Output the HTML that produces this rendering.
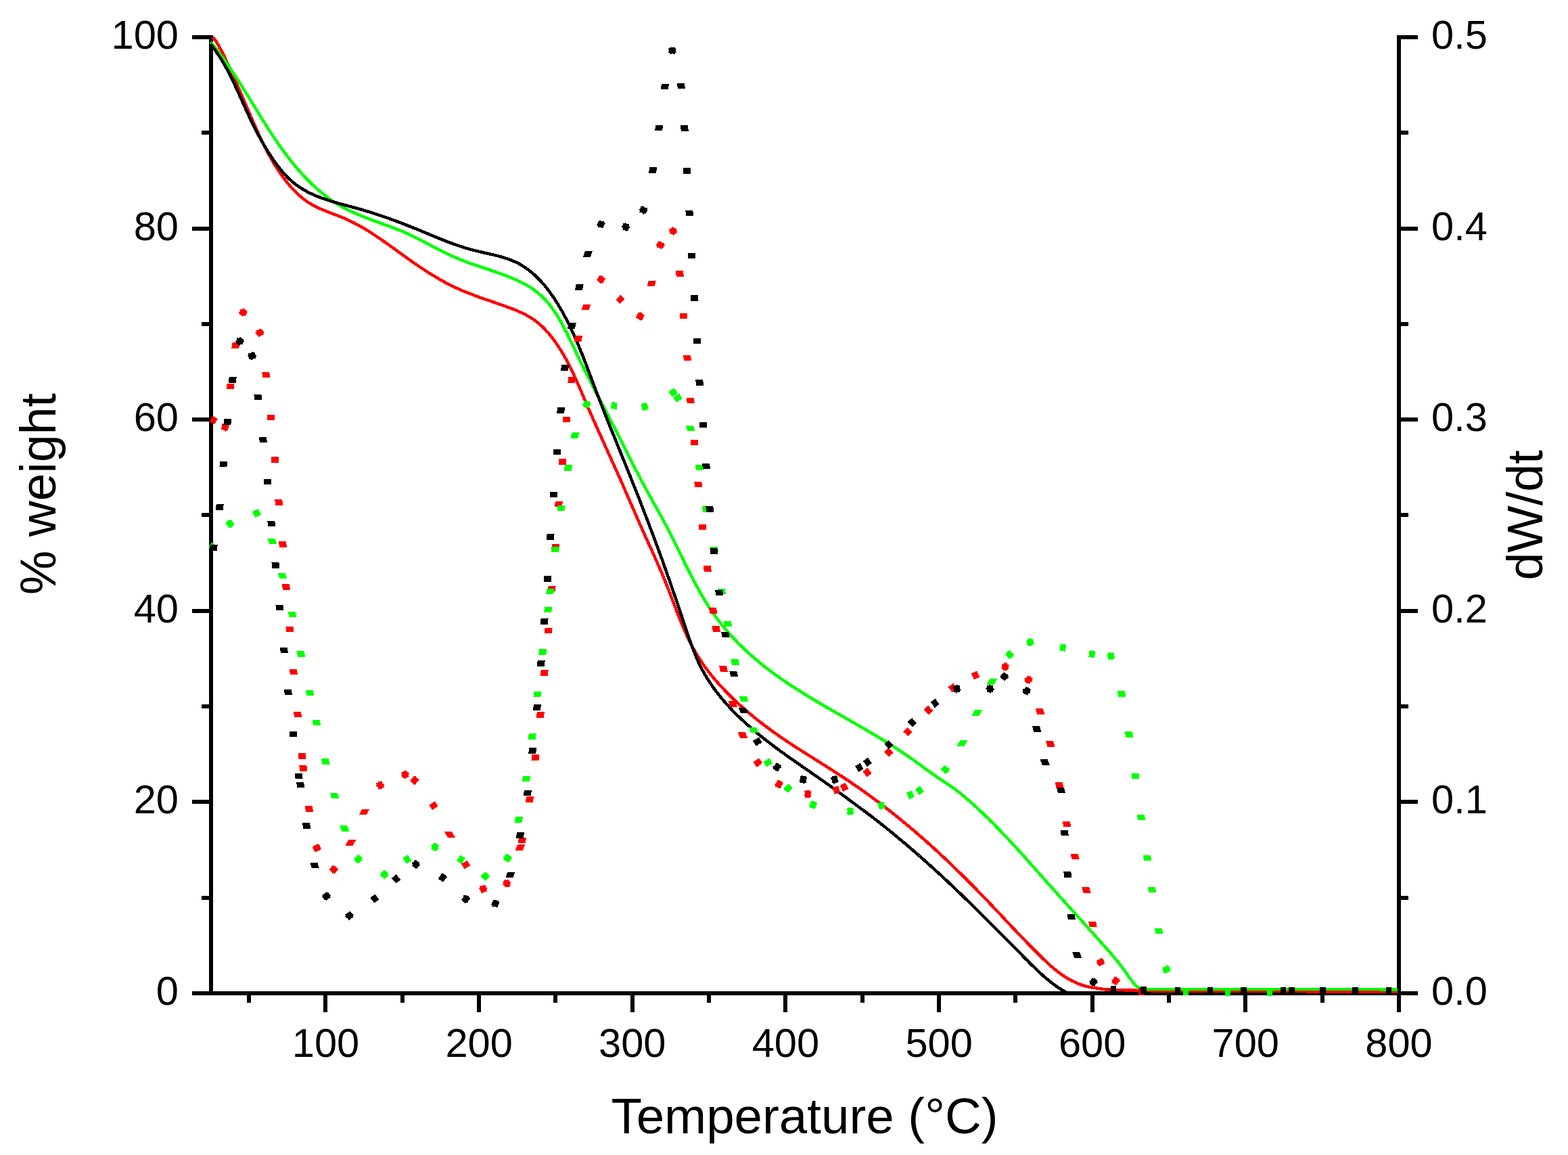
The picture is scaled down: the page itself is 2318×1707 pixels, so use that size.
<!DOCTYPE html>
<html><head><meta charset="utf-8"><title>TGA</title>
<style>html,body{margin:0;padding:0;background:#fff;}svg{display:block;}</style></head>
<body><svg width="2318" height="1707" viewBox="0 0 2318 1707">
<rect width="2318" height="1707" fill="#fff"/>
<g fill="#000" shape-rendering="crispEdges">
<rect x="309" y="52" width="6" height="1419"/>
<rect x="2065" y="52" width="6" height="1419"/>
<rect x="309" y="1465" width="1762" height="6"/>
<rect x="284" y="1465" width="25" height="6"/>
<rect x="2071" y="1465" width="25" height="6"/>
<rect x="284" y="1182" width="25" height="6"/>
<rect x="2071" y="1182" width="25" height="6"/>
<rect x="284" y="900" width="25" height="6"/>
<rect x="2071" y="900" width="25" height="6"/>
<rect x="284" y="617" width="25" height="6"/>
<rect x="2071" y="617" width="25" height="6"/>
<rect x="284" y="335" width="25" height="6"/>
<rect x="2071" y="335" width="25" height="6"/>
<rect x="284" y="52" width="25" height="6"/>
<rect x="2071" y="52" width="25" height="6"/>
<rect x="298" y="1324" width="11" height="6"/>
<rect x="2071" y="1324" width="11" height="6"/>
<rect x="298" y="1041" width="11" height="6"/>
<rect x="2071" y="1041" width="11" height="6"/>
<rect x="298" y="758" width="11" height="6"/>
<rect x="2071" y="758" width="11" height="6"/>
<rect x="298" y="476" width="11" height="6"/>
<rect x="2071" y="476" width="11" height="6"/>
<rect x="298" y="193" width="11" height="6"/>
<rect x="2071" y="193" width="11" height="6"/>
<rect x="478" y="1471" width="6" height="25"/>
<rect x="705" y="1471" width="6" height="25"/>
<rect x="932" y="1471" width="6" height="25"/>
<rect x="1158" y="1471" width="6" height="25"/>
<rect x="1385" y="1471" width="6" height="25"/>
<rect x="1612" y="1471" width="6" height="25"/>
<rect x="1838" y="1471" width="6" height="25"/>
<rect x="2065" y="1471" width="6" height="25"/>
<rect x="365" y="1471" width="6" height="11"/>
<rect x="592" y="1471" width="6" height="11"/>
<rect x="818" y="1471" width="6" height="11"/>
<rect x="1045" y="1471" width="6" height="11"/>
<rect x="1272" y="1471" width="6" height="11"/>
<rect x="1498" y="1471" width="6" height="11"/>
<rect x="1725" y="1471" width="6" height="11"/>
<rect x="1952" y="1471" width="6" height="11"/>
</g>
<g fill="none" stroke-width="4.5" stroke-linejoin="round" shape-rendering="crispEdges">
<path stroke="#ff0000" d="M314.9 54.9 L316.7 57.4 L318.4 59.8 L320.1 62.3 L321.7 64.9 L323.2 67.4 L324.7 70.0 L326.1 72.7 L327.5 75.3 L328.9 78.0 L330.2 80.6 L331.5 83.3 L332.8 86.0 L334.0 88.7 L335.3 91.4 L336.5 94.2 L337.8 96.9 L339.0 99.6 L340.3 102.3 L341.5 105.0 L342.7 107.8 L343.9 110.5 L345.2 113.2 L346.4 115.9 L347.6 118.7 L348.8 121.4 L350.0 124.2 L351.2 126.9 L352.4 129.6 L353.6 132.4 L354.8 135.1 L356.0 137.9 L357.2 140.6 L358.4 143.4 L359.5 146.1 L360.7 148.9 L361.9 151.6 L363.1 154.4 L364.3 157.1 L365.5 159.9 L366.7 162.6 L367.9 165.4 L369.0 168.1 L370.2 170.9 L371.4 173.6 L372.6 176.4 L373.8 179.2 L375.0 181.9 L376.3 184.7 L377.5 187.4 L378.7 190.1 L379.9 192.9 L381.2 195.6 L382.4 198.4 L383.7 201.1 L385.0 203.8 L386.3 206.5 L387.6 209.2 L388.9 211.9 L390.2 214.6 L391.6 217.3 L392.9 219.9 L394.3 222.6 L395.7 225.3 L397.1 227.9 L398.6 230.5 L400.0 233.1 L401.5 235.7 L403.0 238.3 L404.6 240.9 L406.1 243.5 L407.7 246.0 L409.3 248.5 L410.9 251.0 L412.6 253.5 L414.3 256.0 L416.0 258.5 L417.8 260.9 L419.6 263.3 L421.4 265.7 L423.2 268.1 L425.1 270.5 L427.0 272.8 L429.0 275.1 L431.0 277.3 L433.0 279.5 L435.1 281.7 L437.2 283.8 L439.3 285.9 L441.5 288.0 L443.7 289.9 L446.0 291.9 L448.3 293.7 L450.6 295.5 L453.0 297.3 L455.5 298.9 L458.0 300.5 L460.5 302.0 L463.1 303.5 L465.7 304.9 L468.4 306.2 L471.1 307.5 L473.8 308.7 L476.6 309.9 L479.3 311.0 L482.1 312.1 L484.9 313.2 L487.8 314.3 L490.6 315.4 L493.4 316.5 L496.2 317.6 L499.0 318.6 L501.8 319.7 L504.6 320.9 L507.4 322.0 L510.2 323.2 L512.9 324.4 L515.7 325.7 L518.3 327.0 L521.0 328.3 L523.7 329.6 L526.3 331.0 L529.0 332.4 L531.6 333.9 L534.2 335.3 L536.7 336.8 L539.3 338.3 L541.9 339.9 L544.4 341.4 L546.9 343.0 L549.4 344.6 L551.9 346.2 L554.4 347.9 L556.9 349.5 L559.4 351.2 L561.9 352.9 L564.3 354.6 L566.8 356.3 L569.2 358.0 L571.7 359.7 L574.1 361.5 L576.6 363.2 L579.0 365.0 L581.4 366.7 L583.9 368.5 L586.3 370.2 L588.7 372.0 L591.2 373.8 L593.6 375.5 L596.0 377.3 L598.5 379.1 L600.9 380.8 L603.4 382.6 L605.8 384.3 L608.3 386.0 L610.8 387.8 L613.3 389.5 L615.7 391.2 L618.2 392.9 L620.7 394.6 L623.2 396.2 L625.7 397.9 L628.2 399.5 L630.8 401.2 L633.3 402.8 L635.9 404.4 L638.4 406.0 L641.0 407.5 L643.5 409.1 L646.1 410.6 L648.7 412.1 L651.3 413.6 L653.9 415.1 L656.5 416.5 L659.2 417.9 L661.8 419.3 L664.5 420.7 L667.1 422.0 L669.8 423.3 L672.5 424.6 L675.2 425.9 L677.9 427.1 L680.7 428.3 L683.4 429.5 L686.2 430.6 L688.9 431.7 L691.7 432.9 L694.5 433.9 L697.3 435.0 L700.1 436.1 L702.9 437.1 L705.7 438.2 L708.5 439.2 L711.3 440.2 L714.2 441.2 L717.0 442.2 L719.8 443.2 L722.7 444.1 L725.5 445.1 L728.3 446.1 L731.2 447.1 L734.0 448.1 L736.9 449.1 L739.7 450.0 L742.6 451.0 L745.4 452.0 L748.2 453.1 L751.1 454.1 L753.9 455.1 L756.7 456.2 L759.5 457.3 L762.3 458.4 L765.1 459.6 L767.8 460.7 L770.5 462.0 L773.2 463.3 L775.9 464.6 L778.5 466.0 L781.1 467.4 L783.6 468.9 L786.2 470.5 L788.6 472.1 L791.0 473.8 L793.4 475.6 L795.7 477.5 L798.0 479.4 L800.2 481.4 L802.4 483.5 L804.5 485.6 L806.6 487.8 L808.6 490.0 L810.6 492.3 L812.6 494.6 L814.5 496.9 L816.4 499.3 L818.2 501.7 L820.0 504.1 L821.7 506.5 L823.4 509.0 L825.1 511.5 L826.8 514.0 L828.4 516.5 L829.9 519.1 L831.5 521.6 L833.0 524.2 L834.5 526.8 L835.9 529.4 L837.4 532.0 L838.8 534.6 L840.2 537.3 L841.5 540.0 L842.9 542.6 L844.2 545.3 L845.5 548.0 L846.8 550.7 L848.1 553.4 L849.3 556.2 L850.6 558.9 L851.8 561.6 L853.0 564.4 L854.2 567.1 L855.5 569.9 L856.6 572.7 L857.8 575.4 L859.0 578.2 L860.2 581.0 L861.4 583.7 L862.6 586.5 L863.7 589.3 L864.9 592.0 L866.1 594.8 L867.3 597.5 L868.5 600.3 L869.7 603.1 L870.9 605.8 L872.1 608.6 L873.3 611.3 L874.5 614.0 L875.7 616.8 L876.9 619.5 L878.1 622.3 L879.3 625.0 L880.6 627.7 L881.8 630.5 L883.0 633.2 L884.2 635.9 L885.5 638.7 L886.7 641.4 L887.9 644.1 L889.2 646.8 L890.4 649.5 L891.6 652.3 L892.9 655.0 L894.1 657.7 L895.3 660.4 L896.6 663.2 L897.8 665.9 L899.0 668.6 L900.3 671.3 L901.5 674.0 L902.7 676.8 L904.0 679.5 L905.2 682.2 L906.4 684.9 L907.7 687.7 L908.9 690.4 L910.1 693.1 L911.4 695.9 L912.6 698.6 L913.8 701.3 L915.0 704.1 L916.2 706.8 L917.5 709.5 L918.7 712.3 L919.9 715.0 L921.1 717.8 L922.3 720.5 L923.5 723.3 L924.7 726.0 L925.9 728.8 L927.1 731.5 L928.3 734.3 L929.5 737.0 L930.7 739.8 L931.9 742.5 L933.1 745.3 L934.3 748.0 L935.5 750.8 L936.7 753.5 L937.9 756.3 L939.1 759.0 L940.3 761.8 L941.5 764.5 L942.7 767.3 L943.9 770.0 L945.1 772.8 L946.3 775.5 L947.6 778.2 L948.8 781.0 L950.0 783.7 L951.2 786.4 L952.5 789.2 L953.7 791.9 L954.9 794.6 L956.2 797.3 L957.4 800.0 L958.6 802.7 L959.9 805.5 L961.1 808.2 L962.4 810.9 L963.6 813.6 L964.8 816.3 L966.1 819.0 L967.3 821.8 L968.5 824.5 L969.7 827.2 L970.9 829.9 L972.1 832.7 L973.3 835.4 L974.5 838.1 L975.7 840.9 L976.9 843.6 L978.1 846.4 L979.2 849.1 L980.4 851.9 L981.5 854.7 L982.7 857.5 L983.8 860.2 L984.9 863.0 L986.0 865.8 L987.1 868.6 L988.2 871.4 L989.3 874.2 L990.4 877.0 L991.5 879.9 L992.5 882.7 L993.6 885.5 L994.7 888.3 L995.7 891.1 L996.8 894.0 L997.9 896.8 L999.0 899.6 L1000.0 902.4 L1001.1 905.2 L1002.2 908.0 L1003.3 910.8 L1004.4 913.6 L1005.6 916.4 L1006.7 919.2 L1007.8 922.0 L1009.0 924.8 L1010.2 927.5 L1011.4 930.3 L1012.6 933.0 L1013.8 935.8 L1015.0 938.5 L1016.3 941.2 L1017.6 943.9 L1018.9 946.6 L1020.2 949.3 L1021.6 951.9 L1022.9 954.6 L1024.3 957.2 L1025.8 959.8 L1027.2 962.4 L1028.7 965.0 L1030.2 967.6 L1031.8 970.1 L1033.4 972.6 L1035.0 975.1 L1036.6 977.6 L1038.3 980.1 L1040.0 982.5 L1041.7 985.0 L1043.5 987.4 L1045.3 989.8 L1047.1 992.2 L1048.9 994.5 L1050.8 996.9 L1052.6 999.2 L1054.6 1001.5 L1056.5 1003.8 L1058.4 1006.1 L1060.4 1008.3 L1062.4 1010.6 L1064.4 1012.8 L1066.4 1015.0 L1068.5 1017.2 L1070.6 1019.4 L1072.6 1021.6 L1074.7 1023.7 L1076.8 1025.9 L1079.0 1028.0 L1081.1 1030.1 L1083.3 1032.2 L1085.4 1034.3 L1087.6 1036.3 L1089.8 1038.4 L1092.0 1040.4 L1094.2 1042.4 L1096.5 1044.4 L1098.7 1046.4 L1101.0 1048.4 L1103.2 1050.4 L1105.5 1052.3 L1107.8 1054.3 L1110.1 1056.2 L1112.4 1058.1 L1114.7 1060.0 L1117.1 1061.9 L1119.4 1063.8 L1121.8 1065.6 L1124.1 1067.5 L1126.5 1069.3 L1128.9 1071.1 L1131.3 1072.9 L1133.7 1074.7 L1136.1 1076.5 L1138.5 1078.3 L1140.9 1080.1 L1143.4 1081.8 L1145.8 1083.5 L1148.3 1085.3 L1150.7 1087.0 L1153.2 1088.7 L1155.7 1090.4 L1158.1 1092.1 L1160.6 1093.7 L1163.1 1095.4 L1165.6 1097.1 L1168.1 1098.7 L1170.6 1100.4 L1173.1 1102.0 L1175.6 1103.6 L1178.1 1105.3 L1180.7 1106.9 L1183.2 1108.5 L1185.7 1110.1 L1188.2 1111.7 L1190.8 1113.3 L1193.3 1114.9 L1195.8 1116.5 L1198.4 1118.1 L1200.9 1119.7 L1203.4 1121.3 L1206.0 1122.9 L1208.5 1124.5 L1211.0 1126.1 L1213.6 1127.7 L1216.1 1129.3 L1218.6 1130.9 L1221.2 1132.5 L1223.7 1134.1 L1226.2 1135.7 L1228.8 1137.3 L1231.3 1138.9 L1233.8 1140.5 L1236.3 1142.1 L1238.8 1143.8 L1241.3 1145.4 L1243.8 1147.0 L1246.3 1148.7 L1248.8 1150.3 L1251.3 1152.0 L1253.8 1153.6 L1256.3 1155.3 L1258.8 1157.0 L1261.2 1158.7 L1263.7 1160.4 L1266.2 1162.1 L1268.6 1163.8 L1271.1 1165.5 L1273.5 1167.2 L1276.0 1169.0 L1278.4 1170.7 L1280.8 1172.5 L1283.2 1174.2 L1285.7 1176.0 L1288.1 1177.7 L1290.5 1179.5 L1292.9 1181.3 L1295.3 1183.1 L1297.7 1184.9 L1300.1 1186.7 L1302.5 1188.5 L1304.8 1190.3 L1307.2 1192.1 L1309.6 1193.9 L1311.9 1195.8 L1314.3 1197.6 L1316.7 1199.5 L1319.0 1201.3 L1321.4 1203.2 L1323.7 1205.0 L1326.0 1206.9 L1328.4 1208.8 L1330.7 1210.7 L1333.0 1212.6 L1335.3 1214.5 L1337.6 1216.4 L1339.9 1218.3 L1342.2 1220.2 L1344.5 1222.1 L1346.8 1224.1 L1349.1 1226.0 L1351.4 1227.9 L1353.7 1229.9 L1355.9 1231.8 L1358.2 1233.8 L1360.5 1235.8 L1362.7 1237.7 L1365.0 1239.7 L1367.2 1241.7 L1369.5 1243.7 L1371.7 1245.7 L1373.9 1247.7 L1376.2 1249.7 L1378.4 1251.7 L1380.6 1253.7 L1382.8 1255.7 L1385.0 1257.8 L1387.2 1259.8 L1389.4 1261.8 L1391.6 1263.9 L1393.8 1265.9 L1396.0 1268.0 L1398.2 1270.0 L1400.4 1272.1 L1402.5 1274.2 L1404.7 1276.2 L1406.9 1278.3 L1409.0 1280.4 L1411.2 1282.5 L1413.3 1284.6 L1415.5 1286.7 L1417.6 1288.8 L1419.8 1290.9 L1421.9 1293.0 L1424.0 1295.1 L1426.2 1297.2 L1428.3 1299.3 L1430.4 1301.4 L1432.5 1303.5 L1434.6 1305.7 L1436.7 1307.8 L1438.9 1309.9 L1441.0 1312.1 L1443.1 1314.2 L1445.1 1316.3 L1447.2 1318.5 L1449.3 1320.6 L1451.4 1322.8 L1453.5 1324.9 L1455.6 1327.1 L1457.6 1329.3 L1459.7 1331.4 L1461.8 1333.6 L1463.8 1335.7 L1465.9 1337.9 L1468.0 1340.1 L1470.0 1342.3 L1472.1 1344.4 L1474.1 1346.6 L1476.2 1348.8 L1478.2 1351.0 L1480.3 1353.1 L1482.3 1355.3 L1484.4 1357.5 L1486.4 1359.7 L1488.5 1361.8 L1490.5 1364.0 L1492.6 1366.2 L1494.6 1368.4 L1496.7 1370.6 L1498.7 1372.7 L1500.8 1374.9 L1502.9 1377.1 L1504.9 1379.2 L1507.0 1381.4 L1509.1 1383.6 L1511.1 1385.7 L1513.2 1387.9 L1515.3 1390.1 L1517.4 1392.2 L1519.5 1394.4 L1521.6 1396.5 L1523.7 1398.7 L1525.8 1400.8 L1527.9 1402.9 L1530.0 1405.1 L1532.1 1407.2 L1534.3 1409.3 L1536.4 1411.5 L1538.6 1413.6 L1540.7 1415.7 L1542.9 1417.8 L1545.1 1419.8 L1547.3 1421.9 L1549.5 1423.9 L1551.7 1426.0 L1553.9 1428.0 L1556.2 1429.9 L1558.5 1431.8 L1560.8 1433.7 L1563.2 1435.6 L1565.5 1437.4 L1567.9 1439.2 L1570.3 1440.9 L1572.8 1442.6 L1575.3 1444.2 L1577.8 1445.7 L1580.3 1447.2 L1582.9 1448.7 L1585.5 1450.0 L1588.2 1451.3 L1590.9 1452.6 L1593.7 1453.7 L1596.5 1454.8 L1599.3 1455.8 L1602.2 1456.7 L1605.1 1457.5 L1608.1 1458.3 L1611.1 1458.9 L1614.2 1459.5 L1617.4 1459.9 L1633.4 1462.3 L1666.1 1463.4 L1710.0 1464.5 L1800.0 1464.9 L1900.0 1465.2 L2000.0 1465.4 L2066.0 1465.5"/>
<path stroke="#00ff00" d="M311.4 62.2 L313.3 64.5 L315.2 66.9 L317.1 69.2 L318.9 71.5 L320.8 73.9 L322.6 76.3 L324.4 78.6 L326.2 81.0 L328.0 83.4 L329.7 85.8 L331.5 88.3 L333.2 90.7 L334.9 93.1 L336.6 95.6 L338.3 98.1 L340.0 100.5 L341.7 103.0 L343.4 105.5 L345.0 108.0 L346.7 110.5 L348.3 113.0 L350.0 115.5 L351.6 118.0 L353.2 120.5 L354.8 123.1 L356.4 125.6 L358.0 128.1 L359.6 130.7 L361.2 133.2 L362.8 135.8 L364.3 138.3 L365.9 140.9 L367.5 143.4 L369.1 146.0 L370.6 148.5 L372.2 151.1 L373.8 153.7 L375.3 156.2 L376.9 158.8 L378.5 161.3 L380.0 163.9 L381.6 166.4 L383.2 169.0 L384.8 171.5 L386.4 174.1 L387.9 176.6 L389.5 179.2 L391.1 181.7 L392.7 184.2 L394.3 186.8 L395.9 189.3 L397.6 191.8 L399.2 194.3 L400.8 196.8 L402.5 199.3 L404.1 201.8 L405.8 204.3 L407.5 206.8 L409.1 209.2 L410.8 211.7 L412.5 214.1 L414.3 216.6 L416.0 219.0 L417.7 221.4 L419.5 223.9 L421.3 226.3 L423.0 228.6 L424.8 231.0 L426.7 233.4 L428.5 235.7 L430.3 238.1 L432.2 240.4 L434.1 242.7 L436.0 245.0 L437.9 247.3 L439.8 249.6 L441.8 251.8 L443.8 254.1 L445.8 256.3 L447.8 258.5 L449.8 260.7 L451.9 262.9 L454.0 265.0 L456.1 267.2 L458.2 269.3 L460.4 271.4 L462.6 273.5 L464.8 275.5 L467.0 277.6 L469.2 279.6 L471.5 281.6 L473.8 283.5 L476.2 285.5 L478.5 287.4 L480.9 289.2 L483.3 291.1 L485.7 292.9 L488.1 294.6 L490.6 296.4 L493.1 298.0 L495.6 299.7 L498.1 301.3 L500.7 302.8 L503.3 304.3 L505.9 305.8 L508.5 307.2 L511.1 308.6 L513.8 309.9 L516.5 311.3 L519.2 312.5 L521.9 313.8 L524.6 315.0 L527.3 316.2 L530.1 317.4 L532.8 318.5 L535.6 319.7 L538.3 320.8 L541.1 321.9 L543.9 322.9 L546.7 324.0 L549.5 325.1 L552.3 326.1 L555.1 327.1 L557.9 328.1 L560.7 329.2 L563.6 330.2 L566.4 331.2 L569.2 332.2 L572.0 333.2 L574.8 334.2 L577.6 335.3 L580.4 336.3 L583.2 337.4 L586.0 338.5 L588.8 339.6 L591.6 340.7 L594.3 341.8 L597.1 343.0 L599.8 344.2 L602.6 345.4 L605.3 346.7 L608.0 348.0 L610.7 349.3 L613.5 350.6 L616.2 351.9 L618.8 353.3 L621.5 354.7 L624.2 356.0 L626.9 357.4 L629.6 358.8 L632.3 360.2 L634.9 361.7 L637.6 363.1 L640.3 364.5 L642.9 365.9 L645.6 367.3 L648.3 368.6 L651.0 370.0 L653.6 371.4 L656.3 372.7 L659.0 374.1 L661.7 375.4 L664.4 376.6 L667.1 377.9 L669.8 379.1 L672.5 380.3 L675.3 381.5 L678.0 382.6 L680.7 383.8 L683.5 384.8 L686.2 385.9 L689.0 386.9 L691.8 388.0 L694.6 389.0 L697.4 390.0 L700.1 390.9 L702.9 391.9 L705.7 392.9 L708.6 393.8 L711.4 394.8 L714.2 395.7 L717.0 396.6 L719.8 397.6 L722.7 398.5 L725.5 399.5 L728.4 400.5 L731.2 401.4 L734.0 402.4 L736.9 403.4 L739.7 404.4 L742.6 405.5 L745.5 406.5 L748.3 407.6 L751.2 408.7 L754.0 409.9 L756.8 411.0 L759.7 412.2 L762.5 413.4 L765.3 414.7 L768.0 416.0 L770.8 417.4 L773.5 418.7 L776.2 420.2 L778.8 421.6 L781.4 423.2 L783.9 424.7 L786.4 426.4 L788.9 428.1 L791.3 429.8 L793.6 431.6 L795.9 433.4 L798.1 435.4 L800.3 437.3 L802.4 439.3 L804.4 441.4 L806.4 443.5 L808.4 445.7 L810.3 447.9 L812.2 450.2 L814.0 452.5 L815.7 454.8 L817.5 457.2 L819.2 459.6 L820.8 462.1 L822.5 464.5 L824.1 467.0 L825.6 469.6 L827.1 472.2 L828.7 474.8 L830.1 477.4 L831.6 480.0 L833.0 482.7 L834.4 485.4 L835.8 488.1 L837.2 490.8 L838.5 493.5 L839.9 496.2 L841.2 499.0 L842.5 501.7 L843.9 504.5 L845.2 507.3 L846.5 510.0 L847.8 512.8 L849.1 515.6 L850.4 518.3 L851.7 521.1 L853.0 523.8 L854.3 526.5 L855.6 529.3 L856.9 532.0 L858.2 534.7 L859.5 537.4 L860.9 540.1 L862.2 542.8 L863.5 545.5 L864.9 548.2 L866.2 550.9 L867.6 553.5 L868.9 556.2 L870.3 558.9 L871.6 561.5 L873.0 564.2 L874.3 566.8 L875.7 569.5 L877.1 572.1 L878.4 574.8 L879.8 577.4 L881.2 580.0 L882.6 582.7 L883.9 585.3 L885.3 587.9 L886.7 590.6 L888.1 593.2 L889.4 595.8 L890.8 598.5 L892.2 601.1 L893.6 603.7 L894.9 606.3 L896.3 609.0 L897.7 611.6 L899.1 614.2 L900.4 616.8 L901.8 619.5 L903.2 622.1 L904.6 624.8 L905.9 627.4 L907.3 630.0 L908.7 632.7 L910.1 635.3 L911.4 638.0 L912.8 640.6 L914.1 643.3 L915.5 646.0 L916.9 648.6 L918.2 651.3 L919.6 654.0 L920.9 656.7 L922.3 659.4 L923.6 662.1 L925.0 664.8 L926.3 667.4 L927.7 670.1 L929.0 672.8 L930.4 675.5 L931.7 678.2 L933.1 680.9 L934.4 683.6 L935.8 686.3 L937.2 689.0 L938.5 691.7 L939.9 694.4 L941.3 697.0 L942.7 699.7 L944.1 702.4 L945.5 705.0 L946.9 707.7 L948.3 710.3 L949.7 713.0 L951.1 715.6 L952.5 718.2 L953.9 720.8 L955.4 723.5 L956.8 726.1 L958.3 728.7 L959.7 731.3 L961.1 733.9 L962.6 736.5 L964.0 739.1 L965.5 741.7 L966.9 744.3 L968.4 746.9 L969.8 749.5 L971.3 752.1 L972.7 754.7 L974.2 757.3 L975.6 759.9 L977.0 762.5 L978.4 765.1 L979.9 767.8 L981.3 770.4 L982.7 773.0 L984.1 775.7 L985.5 778.3 L986.9 780.9 L988.2 783.6 L989.6 786.3 L991.0 788.9 L992.3 791.6 L993.7 794.3 L995.0 797.0 L996.3 799.7 L997.7 802.3 L999.0 805.0 L1000.3 807.7 L1001.7 810.4 L1003.0 813.1 L1004.3 815.8 L1005.6 818.5 L1007.0 821.2 L1008.3 823.9 L1009.6 826.7 L1011.0 829.4 L1012.3 832.1 L1013.6 834.8 L1015.0 837.4 L1016.3 840.1 L1017.7 842.8 L1019.0 845.5 L1020.4 848.2 L1021.8 850.9 L1023.2 853.5 L1024.5 856.2 L1025.9 858.9 L1027.4 861.5 L1028.8 864.2 L1030.2 866.8 L1031.7 869.4 L1033.1 872.1 L1034.6 874.7 L1036.1 877.3 L1037.6 879.9 L1039.1 882.4 L1040.6 885.0 L1042.2 887.6 L1043.7 890.1 L1045.3 892.6 L1046.9 895.2 L1048.5 897.7 L1050.2 900.2 L1051.8 902.6 L1053.5 905.1 L1055.2 907.5 L1056.9 910.0 L1058.7 912.4 L1060.5 914.8 L1062.3 917.2 L1064.1 919.5 L1065.9 921.9 L1067.8 924.2 L1069.7 926.5 L1071.6 928.8 L1073.5 931.1 L1075.4 933.4 L1077.4 935.6 L1079.4 937.9 L1081.4 940.1 L1083.4 942.3 L1085.5 944.5 L1087.5 946.6 L1089.6 948.8 L1091.7 950.9 L1093.8 953.0 L1096.0 955.1 L1098.1 957.2 L1100.3 959.3 L1102.4 961.3 L1104.6 963.3 L1106.8 965.4 L1109.1 967.4 L1111.3 969.3 L1113.6 971.3 L1115.8 973.3 L1118.1 975.2 L1120.4 977.1 L1122.7 979.0 L1125.0 980.9 L1127.3 982.8 L1129.7 984.6 L1132.0 986.5 L1134.4 988.3 L1136.7 990.1 L1139.1 991.9 L1141.5 993.7 L1143.9 995.4 L1146.3 997.2 L1148.7 998.9 L1151.2 1000.6 L1153.6 1002.4 L1156.1 1004.1 L1158.5 1005.8 L1161.0 1007.4 L1163.4 1009.1 L1165.9 1010.8 L1168.4 1012.4 L1170.9 1014.1 L1173.4 1015.7 L1175.9 1017.3 L1178.4 1018.9 L1181.0 1020.5 L1183.5 1022.1 L1186.0 1023.7 L1188.6 1025.3 L1191.1 1026.9 L1193.7 1028.4 L1196.2 1030.0 L1198.8 1031.5 L1201.4 1033.1 L1203.9 1034.6 L1206.5 1036.1 L1209.1 1037.7 L1211.7 1039.2 L1214.3 1040.7 L1216.8 1042.2 L1219.4 1043.7 L1222.0 1045.2 L1224.6 1046.7 L1227.2 1048.2 L1229.8 1049.7 L1232.4 1051.2 L1235.0 1052.7 L1237.7 1054.2 L1240.3 1055.7 L1242.9 1057.2 L1245.5 1058.7 L1248.1 1060.2 L1250.7 1061.7 L1253.3 1063.2 L1255.9 1064.7 L1258.5 1066.1 L1261.1 1067.6 L1263.7 1069.1 L1266.4 1070.6 L1269.0 1072.1 L1271.6 1073.6 L1274.2 1075.1 L1276.8 1076.6 L1279.4 1078.1 L1282.0 1079.6 L1284.5 1081.2 L1287.1 1082.7 L1289.7 1084.2 L1292.3 1085.7 L1294.9 1087.3 L1297.4 1088.8 L1300.0 1090.4 L1302.6 1091.9 L1305.1 1093.5 L1307.7 1095.0 L1310.2 1096.6 L1312.8 1098.2 L1315.3 1099.8 L1317.9 1101.4 L1320.4 1103.0 L1322.9 1104.6 L1325.4 1106.2 L1327.9 1107.9 L1330.4 1109.5 L1332.9 1111.2 L1335.4 1112.8 L1337.9 1114.5 L1340.3 1116.2 L1342.8 1117.9 L1345.2 1119.6 L1347.7 1121.3 L1350.1 1123.1 L1352.6 1124.8 L1355.0 1126.6 L1357.4 1128.3 L1359.8 1130.1 L1362.2 1131.8 L1364.6 1133.6 L1367.0 1135.4 L1369.4 1137.1 L1371.8 1138.9 L1374.2 1140.6 L1376.7 1142.4 L1379.1 1144.1 L1381.5 1145.8 L1383.9 1147.5 L1386.3 1149.2 L1388.8 1150.9 L1391.2 1152.6 L1393.7 1154.2 L1396.2 1155.9 L1398.6 1157.5 L1401.1 1159.1 L1403.6 1160.7 L1406.0 1162.3 L1408.5 1164.0 L1410.9 1165.7 L1413.3 1167.5 L1415.6 1169.3 L1418.0 1171.1 L1420.3 1173.0 L1422.6 1174.9 L1424.9 1176.8 L1427.2 1178.7 L1429.4 1180.7 L1431.7 1182.6 L1433.9 1184.6 L1436.2 1186.6 L1438.4 1188.6 L1440.6 1190.6 L1442.8 1192.6 L1445.0 1194.6 L1447.2 1196.6 L1449.4 1198.7 L1451.6 1200.7 L1453.7 1202.8 L1455.9 1204.9 L1458.0 1207.0 L1460.2 1209.0 L1462.3 1211.1 L1464.4 1213.3 L1466.6 1215.4 L1468.7 1217.5 L1470.8 1219.6 L1472.9 1221.8 L1475.0 1223.9 L1477.1 1226.1 L1479.1 1228.2 L1481.2 1230.4 L1483.3 1232.5 L1485.4 1234.7 L1487.4 1236.9 L1489.5 1239.1 L1491.5 1241.3 L1493.6 1243.5 L1495.6 1245.7 L1497.6 1247.9 L1499.7 1250.1 L1501.7 1252.3 L1503.7 1254.5 L1505.7 1256.8 L1507.8 1259.0 L1509.8 1261.2 L1511.8 1263.4 L1513.8 1265.7 L1515.8 1267.9 L1517.8 1270.2 L1519.8 1272.4 L1521.8 1274.6 L1523.8 1276.9 L1525.8 1279.1 L1527.8 1281.4 L1529.8 1283.6 L1531.8 1285.8 L1533.8 1288.1 L1535.8 1290.3 L1537.8 1292.6 L1539.7 1294.8 L1541.7 1297.1 L1543.7 1299.3 L1545.7 1301.5 L1547.7 1303.8 L1549.7 1306.0 L1551.7 1308.2 L1553.7 1310.5 L1555.7 1312.7 L1557.7 1314.9 L1559.7 1317.2 L1561.7 1319.4 L1563.7 1321.6 L1565.6 1323.8 L1567.6 1326.1 L1569.6 1328.3 L1571.6 1330.5 L1573.6 1332.7 L1575.6 1334.9 L1577.6 1337.2 L1579.6 1339.4 L1581.6 1341.6 L1583.6 1343.8 L1585.6 1346.0 L1587.6 1348.2 L1589.6 1350.5 L1591.6 1352.7 L1593.6 1354.9 L1595.6 1357.1 L1597.6 1359.3 L1599.7 1361.5 L1601.7 1363.8 L1603.7 1366.0 L1605.7 1368.2 L1607.7 1370.4 L1609.7 1372.7 L1611.7 1374.9 L1613.7 1377.1 L1615.7 1379.3 L1617.7 1381.6 L1619.7 1383.8 L1621.7 1386.0 L1623.7 1388.3 L1625.7 1390.5 L1627.7 1392.7 L1629.8 1395.0 L1631.8 1397.2 L1633.7 1399.5 L1635.7 1401.7 L1637.7 1404.0 L1639.7 1406.3 L1641.7 1408.5 L1643.6 1410.8 L1645.5 1413.1 L1647.5 1415.4 L1649.4 1417.7 L1651.3 1420.1 L1653.2 1422.4 L1655.0 1424.7 L1656.9 1427.1 L1658.7 1429.5 L1660.5 1431.9 L1662.2 1434.3 L1664.0 1436.7 L1665.7 1439.1 L1667.4 1441.6 L1669.1 1444.0 L1670.8 1446.4 L1672.6 1448.8 L1674.3 1451.1 L1676.2 1453.3 L1678.1 1455.4 L1680.1 1457.4 L1682.3 1459.2 L1684.6 1460.8 L1687.0 1462.3 L1710.0 1461.8 L1800.0 1462.0 L1900.0 1462.1 L2000.0 1462.2 L2066.0 1462.3"/>
<path stroke="#000" d="M311.2 65.1 L313.1 67.5 L314.9 69.9 L316.7 72.3 L318.5 74.7 L320.2 77.2 L321.9 79.7 L323.6 82.2 L325.2 84.7 L326.8 87.2 L328.3 89.8 L329.9 92.3 L331.4 94.9 L332.9 97.5 L334.3 100.1 L335.7 102.7 L337.2 105.4 L338.5 108.0 L339.9 110.7 L341.3 113.4 L342.6 116.0 L343.9 118.7 L345.2 121.4 L346.5 124.1 L347.8 126.8 L349.0 129.6 L350.3 132.3 L351.5 135.0 L352.8 137.7 L354.0 140.5 L355.2 143.2 L356.5 145.9 L357.7 148.7 L358.9 151.4 L360.1 154.1 L361.4 156.9 L362.6 159.6 L363.8 162.3 L365.1 165.0 L366.3 167.7 L367.6 170.5 L368.8 173.2 L370.1 175.8 L371.4 178.5 L372.7 181.2 L374.0 183.9 L375.3 186.6 L376.7 189.2 L378.0 191.9 L379.4 194.5 L380.7 197.2 L382.1 199.8 L383.6 202.4 L385.0 205.1 L386.5 207.7 L387.9 210.3 L389.4 212.9 L390.9 215.5 L392.5 218.1 L394.0 220.6 L395.6 223.2 L397.3 225.8 L398.9 228.3 L400.6 230.9 L402.3 233.4 L404.0 236.0 L405.7 238.5 L407.5 241.0 L409.3 243.5 L411.2 245.9 L413.1 248.3 L415.0 250.7 L416.9 253.0 L418.9 255.3 L420.9 257.6 L423.0 259.8 L425.1 262.0 L427.2 264.1 L429.4 266.1 L431.6 268.1 L433.9 270.0 L436.2 271.8 L438.5 273.6 L440.9 275.3 L443.3 277.0 L445.8 278.5 L448.3 280.0 L450.8 281.5 L453.3 282.9 L455.9 284.3 L458.6 285.6 L461.2 286.8 L463.9 288.0 L466.6 289.2 L469.3 290.3 L472.1 291.4 L474.9 292.4 L477.7 293.4 L480.5 294.4 L483.3 295.3 L486.2 296.3 L489.0 297.2 L491.9 298.0 L494.8 298.9 L497.7 299.7 L500.6 300.6 L503.5 301.4 L506.5 302.2 L509.4 303.0 L512.3 303.7 L515.2 304.5 L518.2 305.3 L521.1 306.1 L524.0 306.9 L527.0 307.7 L529.9 308.5 L532.8 309.3 L535.7 310.2 L538.6 311.0 L541.5 311.9 L544.4 312.7 L547.3 313.6 L550.1 314.5 L553.0 315.4 L555.9 316.4 L558.7 317.3 L561.5 318.2 L564.4 319.2 L567.2 320.2 L570.0 321.2 L572.9 322.1 L575.7 323.2 L578.5 324.2 L581.3 325.2 L584.1 326.2 L586.9 327.3 L589.7 328.3 L592.4 329.4 L595.2 330.4 L598.0 331.5 L600.8 332.6 L603.5 333.7 L606.3 334.8 L609.0 335.9 L611.8 337.0 L614.6 338.1 L617.3 339.2 L620.1 340.3 L622.8 341.5 L625.5 342.6 L628.3 343.7 L631.0 344.9 L633.8 346.0 L636.5 347.2 L639.2 348.3 L642.0 349.4 L644.7 350.6 L647.5 351.7 L650.2 352.8 L653.0 353.9 L655.8 355.0 L658.5 356.1 L661.3 357.2 L664.1 358.3 L666.9 359.3 L669.7 360.3 L672.5 361.3 L675.3 362.3 L678.2 363.3 L681.0 364.3 L683.9 365.2 L686.8 366.1 L689.7 366.9 L692.6 367.8 L695.5 368.6 L698.5 369.4 L701.4 370.1 L704.4 370.9 L707.4 371.6 L710.4 372.3 L713.4 373.0 L716.4 373.6 L719.4 374.3 L722.4 375.0 L725.4 375.7 L728.4 376.4 L731.3 377.1 L734.3 377.9 L737.3 378.6 L740.2 379.4 L743.1 380.3 L746.0 381.1 L748.8 382.1 L751.6 383.0 L754.4 384.1 L757.2 385.1 L759.9 386.3 L762.6 387.5 L765.2 388.8 L767.8 390.1 L770.3 391.6 L772.8 393.1 L775.3 394.7 L777.7 396.3 L780.1 398.0 L782.4 399.7 L784.7 401.6 L787.0 403.4 L789.2 405.4 L791.4 407.4 L793.5 409.4 L795.6 411.5 L797.7 413.6 L799.7 415.8 L801.7 418.0 L803.7 420.2 L805.6 422.5 L807.5 424.9 L809.3 427.2 L811.2 429.6 L813.0 432.0 L814.7 434.5 L816.5 437.0 L818.2 439.5 L819.9 442.0 L821.5 444.5 L823.1 447.1 L824.7 449.7 L826.3 452.2 L827.8 454.8 L829.4 457.4 L830.9 460.0 L832.3 462.7 L833.8 465.3 L835.2 468.0 L836.6 470.6 L838.0 473.3 L839.4 475.9 L840.7 478.6 L842.0 481.3 L843.3 484.0 L844.6 486.7 L845.9 489.4 L847.2 492.1 L848.4 494.9 L849.6 497.6 L850.8 500.3 L852.0 503.1 L853.2 505.8 L854.4 508.6 L855.5 511.4 L856.7 514.1 L857.8 516.9 L859.0 519.7 L860.1 522.5 L861.2 525.2 L862.3 528.0 L863.4 530.8 L864.5 533.6 L865.5 536.4 L866.6 539.2 L867.7 542.0 L868.7 544.8 L869.8 547.6 L870.9 550.4 L871.9 553.2 L873.0 556.0 L874.0 558.8 L875.1 561.6 L876.1 564.4 L877.2 567.3 L878.3 570.1 L879.3 572.9 L880.4 575.7 L881.4 578.5 L882.5 581.3 L883.6 584.1 L884.7 586.9 L885.7 589.6 L886.8 592.4 L887.9 595.2 L889.0 598.0 L890.1 600.8 L891.2 603.6 L892.3 606.4 L893.4 609.2 L894.5 611.9 L895.6 614.7 L896.7 617.5 L897.8 620.3 L898.9 623.1 L900.0 625.8 L901.1 628.6 L902.3 631.4 L903.4 634.2 L904.5 636.9 L905.6 639.7 L906.7 642.5 L907.9 645.3 L909.0 648.0 L910.1 650.8 L911.2 653.6 L912.4 656.4 L913.5 659.1 L914.6 661.9 L915.7 664.7 L916.9 667.4 L918.0 670.2 L919.1 673.0 L920.2 675.8 L921.4 678.5 L922.5 681.3 L923.6 684.1 L924.7 686.9 L925.9 689.6 L927.0 692.4 L928.1 695.2 L929.2 698.0 L930.3 700.7 L931.5 703.5 L932.6 706.3 L933.7 709.1 L934.8 711.9 L935.9 714.6 L937.0 717.4 L938.1 720.2 L939.2 723.0 L940.3 725.8 L941.4 728.6 L942.5 731.3 L943.6 734.1 L944.7 736.9 L945.8 739.7 L946.9 742.5 L948.0 745.3 L949.1 748.1 L950.2 750.9 L951.2 753.7 L952.3 756.5 L953.4 759.3 L954.5 762.1 L955.6 764.9 L956.6 767.7 L957.7 770.5 L958.8 773.3 L959.8 776.1 L960.9 778.9 L961.9 781.7 L963.0 784.5 L964.1 787.3 L965.1 790.1 L966.2 792.9 L967.2 795.7 L968.3 798.5 L969.3 801.3 L970.3 804.1 L971.4 806.9 L972.4 809.7 L973.4 812.6 L974.5 815.4 L975.5 818.2 L976.5 821.0 L977.5 823.8 L978.6 826.6 L979.6 829.4 L980.6 832.3 L981.6 835.1 L982.6 837.9 L983.6 840.7 L984.6 843.5 L985.6 846.4 L986.6 849.2 L987.6 852.0 L988.6 854.8 L989.6 857.6 L990.6 860.5 L991.6 863.3 L992.6 866.1 L993.5 868.9 L994.5 871.8 L995.5 874.6 L996.5 877.4 L997.4 880.2 L998.4 883.1 L999.4 885.9 L1000.3 888.7 L1001.3 891.6 L1002.2 894.4 L1003.2 897.2 L1004.2 900.1 L1005.1 902.9 L1006.1 905.8 L1007.0 908.6 L1008.0 911.5 L1008.9 914.3 L1009.9 917.2 L1010.9 920.0 L1011.8 922.9 L1012.8 925.7 L1013.7 928.6 L1014.7 931.4 L1015.6 934.3 L1016.6 937.1 L1017.6 940.0 L1018.5 942.8 L1019.5 945.7 L1020.5 948.5 L1021.5 951.4 L1022.6 954.2 L1023.6 957.0 L1024.7 959.8 L1025.8 962.6 L1026.9 965.4 L1028.0 968.2 L1029.2 971.0 L1030.3 973.7 L1031.6 976.4 L1032.8 979.2 L1034.1 981.8 L1035.4 984.5 L1036.7 987.2 L1038.1 989.8 L1039.5 992.4 L1041.0 995.0 L1042.5 997.6 L1044.0 1000.2 L1045.5 1002.7 L1047.1 1005.2 L1048.7 1007.7 L1050.4 1010.2 L1052.0 1012.7 L1053.7 1015.1 L1055.5 1017.5 L1057.2 1019.9 L1059.0 1022.3 L1060.8 1024.7 L1062.7 1027.0 L1064.6 1029.4 L1066.5 1031.7 L1068.4 1034.0 L1070.3 1036.3 L1072.3 1038.5 L1074.3 1040.8 L1076.3 1043.0 L1078.3 1045.2 L1080.4 1047.4 L1082.4 1049.6 L1084.5 1051.7 L1086.6 1053.9 L1088.8 1056.0 L1090.9 1058.1 L1093.1 1060.2 L1095.3 1062.3 L1097.5 1064.3 L1099.7 1066.4 L1101.9 1068.4 L1104.1 1070.4 L1106.4 1072.4 L1108.7 1074.4 L1110.9 1076.4 L1113.2 1078.4 L1115.5 1080.3 L1117.8 1082.2 L1120.1 1084.2 L1122.5 1086.1 L1124.8 1087.9 L1127.1 1089.8 L1129.5 1091.7 L1131.8 1093.5 L1134.2 1095.4 L1136.6 1097.2 L1139.0 1099.0 L1141.3 1100.8 L1143.7 1102.6 L1146.1 1104.4 L1148.5 1106.2 L1150.9 1108.0 L1153.3 1109.7 L1155.8 1111.5 L1158.2 1113.2 L1160.6 1115.0 L1163.0 1116.7 L1165.5 1118.5 L1167.9 1120.2 L1170.3 1121.9 L1172.8 1123.6 L1175.2 1125.3 L1177.7 1127.0 L1180.1 1128.7 L1182.6 1130.5 L1185.0 1132.2 L1187.5 1133.9 L1189.9 1135.6 L1192.4 1137.3 L1194.9 1139.0 L1197.3 1140.7 L1199.8 1142.3 L1202.2 1144.1 L1204.7 1145.8 L1207.1 1147.5 L1209.6 1149.2 L1212.0 1150.9 L1214.5 1152.6 L1216.9 1154.3 L1219.4 1156.0 L1221.8 1157.8 L1224.2 1159.5 L1226.7 1161.2 L1229.1 1163.0 L1231.5 1164.7 L1234.0 1166.5 L1236.4 1168.2 L1238.8 1170.0 L1241.2 1171.7 L1243.6 1173.5 L1246.0 1175.3 L1248.5 1177.0 L1250.9 1178.8 L1253.3 1180.6 L1255.7 1182.4 L1258.1 1184.2 L1260.5 1185.9 L1262.9 1187.7 L1265.3 1189.5 L1267.7 1191.3 L1270.1 1193.1 L1272.5 1194.9 L1274.9 1196.6 L1277.3 1198.4 L1279.7 1200.2 L1282.1 1202.0 L1284.5 1203.8 L1286.9 1205.6 L1289.3 1207.4 L1291.6 1209.2 L1294.0 1211.0 L1296.4 1212.8 L1298.7 1214.7 L1301.1 1216.5 L1303.4 1218.4 L1305.8 1220.2 L1308.1 1222.1 L1310.5 1224.0 L1312.8 1225.8 L1315.1 1227.7 L1317.4 1229.6 L1319.7 1231.5 L1322.0 1233.4 L1324.3 1235.3 L1326.7 1237.2 L1328.9 1239.1 L1331.2 1241.1 L1333.5 1243.0 L1335.8 1244.9 L1338.1 1246.8 L1340.4 1248.8 L1342.7 1250.7 L1344.9 1252.7 L1347.2 1254.6 L1349.5 1256.6 L1351.8 1258.6 L1354.0 1260.5 L1356.3 1262.5 L1358.5 1264.5 L1360.8 1266.4 L1363.0 1268.4 L1365.3 1270.4 L1367.5 1272.4 L1369.8 1274.4 L1372.0 1276.4 L1374.2 1278.4 L1376.4 1280.4 L1378.7 1282.4 L1380.9 1284.4 L1383.1 1286.5 L1385.3 1288.5 L1387.5 1290.5 L1389.7 1292.5 L1391.9 1294.6 L1394.1 1296.6 L1396.3 1298.7 L1398.5 1300.7 L1400.7 1302.8 L1402.9 1304.8 L1405.1 1306.9 L1407.3 1308.9 L1409.4 1311.0 L1411.6 1313.0 L1413.8 1315.1 L1416.0 1317.2 L1418.1 1319.3 L1420.3 1321.3 L1422.4 1323.4 L1424.6 1325.5 L1426.7 1327.6 L1428.9 1329.7 L1431.0 1331.8 L1433.2 1333.8 L1435.3 1335.9 L1437.4 1338.0 L1439.6 1340.1 L1441.7 1342.2 L1443.8 1344.3 L1445.9 1346.4 L1448.1 1348.6 L1450.2 1350.7 L1452.3 1352.8 L1454.4 1354.9 L1456.5 1357.0 L1458.7 1359.1 L1460.8 1361.2 L1462.9 1363.3 L1465.0 1365.5 L1467.1 1367.6 L1469.2 1369.7 L1471.3 1371.8 L1473.4 1374.0 L1475.5 1376.1 L1477.7 1378.2 L1479.8 1380.3 L1481.9 1382.5 L1484.0 1384.6 L1486.1 1386.7 L1488.2 1388.8 L1490.3 1391.0 L1492.4 1393.1 L1494.5 1395.2 L1496.6 1397.3 L1498.7 1399.5 L1500.8 1401.6 L1502.9 1403.7 L1505.1 1405.9 L1507.2 1408.0 L1509.3 1410.1 L1511.4 1412.2 L1513.5 1414.4 L1515.6 1416.5 L1517.8 1418.6 L1519.9 1420.7 L1522.0 1422.9 L1524.1 1425.0 L1526.3 1427.1 L1528.4 1429.2 L1530.6 1431.3 L1532.7 1433.4 L1534.9 1435.4 L1537.1 1437.5 L1539.3 1439.5 L1541.5 1441.5 L1543.7 1443.5 L1546.0 1445.4 L1548.3 1447.4 L1550.6 1449.3 L1552.9 1451.1 L1555.3 1453.0 L1557.7 1454.8 L1560.1 1456.5 L1562.5 1458.2 L1565.0 1459.9 L1567.5 1461.5 L1570.1 1463.1 L1572.7 1464.6 L1575.3 1466.1 L1578.0 1467.5"/>
</g>
<g fill="#ff0000" shape-rendering="crispEdges"><path d="M314.6 614.6L321.9 619.0L316.8 627.6L309.5 623.2z"/><path d="M314.6 614.6L321.9 619.0L316.8 627.6L309.5 623.2z"/><path d="M331.6 624.8L338.9 629.2L333.8 637.8L326.5 633.4z"/><path d="M327.2 634.9L328.3 626.4L338.2 627.7L337.1 636.2z"/><path d="M335.8 566.5L346.8 566.5L345.6 575.0L334.6 575.0z"/><path d="M343.6 506.4L354.6 506.4L353.2 515.0L342.2 515.0z"/><path d="M353.5 464.9L355.3 456.6L365.1 458.7L363.3 467.0z"/><path d="M360.4 455.3L365.9 461.9L358.2 468.3L352.7 461.7z"/><path d="M385.1 485.1L390.6 491.7L382.9 498.1L377.4 491.5z"/><path d="M388.3 486.7L389.6 495.1L379.7 496.5L378.4 488.1z"/><path d="M387.1 549.5L398.1 549.5L399.3 558.0L388.3 558.0z"/><path d="M394.5 612.5L405.5 612.5L406.5 621.0L395.5 621.0z"/><path d="M400.6 675.0L411.6 675.0L412.4 683.5L401.4 683.5z"/><path d="M406.2 738.0L417.2 738.0L418.0 746.5L407.0 746.5z"/><path d="M412.0 800.1L423.0 800.1L423.8 808.6L412.8 808.6z"/><path d="M417.1 863.2L428.1 863.2L428.9 871.8L417.9 871.8z"/><path d="M422.4 925.5L433.4 925.5L434.2 934.0L423.2 934.0z"/><path d="M428.0 988.5L439.0 988.5L439.8 997.0L428.8 997.0z"/><path d="M434.1 1051.5L445.1 1051.5L445.9 1060.0L434.9 1060.0z"/><path d="M440.8 1113.2L451.8 1113.2L452.6 1121.7L441.6 1121.7z"/><path d="M442.3 1131.3L453.3 1131.3L454.5 1139.8L443.5 1139.8z"/><path d="M450.7 1191.2L461.7 1191.2L463.1 1199.8L452.1 1199.8z"/><path d="M472.3 1248.1L473.9 1256.4L464.1 1258.3L462.5 1250.0z"/><path d="M469.5 1246.8L474.8 1253.4L466.9 1259.6L461.6 1253.0z"/><path d="M494.7 1278.6L500.0 1285.2L492.1 1291.4L486.8 1284.8z"/><path d="M486.9 1285.9L491.5 1278.7L499.9 1284.1L495.3 1291.3z"/><path d="M515.2 1241.3L526.2 1241.3L521.6 1249.8L510.6 1249.8z"/><path d="M535.2 1195.8L546.2 1195.8L541.8 1204.2L530.8 1204.2z"/><path d="M555.5 1161.6L559.9 1154.3L568.5 1159.4L564.1 1166.7z"/><path d="M556.1 1157.6L564.0 1154.2L567.9 1163.4L560.0 1166.8z"/><path d="M593.1 1141.9L601.0 1138.5L604.9 1147.7L597.0 1151.1z"/><path d="M598.0 1138.3L605.2 1142.7L600.0 1151.3L592.8 1146.9z"/><path d="M611.8 1146.7L619.0 1151.1L613.8 1159.7L606.6 1155.3z"/><path d="M614.2 1146.8L619.4 1153.6L611.4 1159.6L606.2 1152.8z"/><path d="M642.4 1184.3L647.6 1191.1L639.6 1197.1L634.4 1190.3z"/><path d="M643.3 1184.6L647.4 1192.0L638.7 1196.8L634.6 1189.4z"/><path d="M657.0 1229.0L668.0 1229.0L672.6 1237.5L661.6 1237.5z"/><path d="M691.0 1271.9L695.0 1279.4L686.2 1284.1L682.2 1276.6z"/><path d="M690.2 1271.6L695.1 1278.5L687.0 1284.4L682.1 1277.5z"/><path d="M716.0 1307.3L720.9 1314.2L712.8 1320.1L707.9 1313.2z"/><path d="M709.1 1309.8L717.4 1307.9L719.7 1317.6L711.4 1319.5z"/><path d="M744.0 1301.7L752.3 1299.8L754.6 1309.5L746.3 1311.4z"/><path d="M743.1 1307.8L746.1 1299.9L755.5 1303.4L752.5 1311.3z"/><path d="M765.0 1248.2L776.0 1248.2L773.0 1256.8L762.0 1256.8z"/><path d="M767.2 1237.8L778.2 1237.8L776.6 1246.3L765.6 1246.3z"/><path d="M778.2 1177.2L789.2 1177.2L787.8 1185.8L776.8 1185.8z"/><path d="M786.5 1115.0L797.5 1115.0L796.5 1123.5L785.5 1123.5z"/><path d="M793.8 1052.2L804.8 1052.2L803.8 1060.8L792.8 1060.8z"/><path d="M799.7 990.0L810.7 990.0L809.9 998.5L798.9 998.5z"/><path d="M805.6 927.5L816.6 927.5L815.8 936.0L804.8 936.0z"/><path d="M810.6 865.9L821.6 865.9L820.8 874.4L809.8 874.4z"/><path d="M815.9 803.5L826.9 803.5L826.3 812.0L815.3 812.0z"/><path d="M820.8 740.6L831.8 740.6L831.0 749.1L820.0 749.1z"/><path d="M826.4 678.1L837.4 678.1L836.6 686.6L825.6 686.6z"/><path d="M832.5 615.9L843.5 615.9L842.5 624.4L831.5 624.4z"/><path d="M840.4 557.2L851.4 557.2L850.2 565.8L839.2 565.8z"/><path d="M850.0 496.1L861.0 496.1L859.4 504.6L848.4 504.6z"/><path d="M862.5 449.6L873.5 449.6L870.3 458.1L859.3 458.1z"/><path d="M882.2 414.3L886.2 406.9L895.0 411.7L891.0 419.1z"/><path d="M889.3 406.5L895.1 412.6L887.9 419.5L882.1 413.4z"/><path d="M917.7 436.0L923.5 442.1L916.3 449.0L910.5 442.9z"/><path d="M917.0 435.9L923.5 441.4L917.0 449.1L910.5 443.6z"/><path d="M946.5 460.7L953.0 466.2L946.5 473.9L940.0 468.4z"/><path d="M940.4 469.7L943.2 461.6L952.6 464.9L949.8 473.0z"/><path d="M958.9 414.8L969.9 414.8L967.5 423.2L956.5 423.2z"/><path d="M970.5 365.3L972.4 357.0L982.1 359.3L980.2 367.6z"/><path d="M969.7 362.1L975.4 355.8L982.9 362.5L977.2 368.8z"/><path d="M988.4 341.3L994.1 335.0L1001.6 341.7L995.9 348.0z"/><path d="M999.3 336.5L1000.6 344.9L990.7 346.5L989.4 338.1z"/><path d="M998.8 400.2L1009.8 400.2L1010.8 408.8L999.8 408.8z"/><path d="M1004.6 462.8L1015.6 462.8L1016.4 471.2L1005.4 471.2z"/><path d="M1010.1 524.5L1021.1 524.5L1021.9 533.0L1010.9 533.0z"/><path d="M1014.9 587.5L1025.9 587.5L1026.7 596.0L1015.7 596.0z"/><path d="M1020.5 649.8L1031.5 649.8L1032.3 658.2L1021.3 658.2z"/><path d="M1026.3 711.5L1037.3 711.5L1038.1 720.0L1027.1 720.0z"/><path d="M1032.5 774.5L1043.5 774.5L1044.5 783.0L1033.5 783.0z"/><path d="M1039.8 836.0L1050.8 836.0L1051.8 844.5L1040.8 844.5z"/><path d="M1047.9 898.0L1058.9 898.0L1060.1 906.5L1049.1 906.5z"/><path d="M1052.4 925.1L1063.4 925.1L1065.0 933.6L1054.0 933.6z"/><path d="M1063.1 984.0L1074.1 984.0L1075.9 992.5L1064.9 992.5z"/><path d="M1076.6 1036.2L1087.6 1036.2L1090.0 1044.7L1079.0 1044.7z"/><path d="M1090.6 1082.2L1101.6 1082.2L1105.2 1090.7L1094.2 1090.7z"/><path d="M1122.5 1121.0L1126.6 1128.4L1117.9 1133.2L1113.8 1125.8z"/><path d="M1120.8 1120.6L1126.7 1126.6L1119.6 1133.6L1113.7 1127.6z"/><path d="M1152.3 1152.6L1158.2 1158.6L1151.1 1165.6L1145.2 1159.6z"/><path d="M1149.3 1153.0L1157.3 1155.7L1154.1 1165.2L1146.1 1162.5z"/><path d="M1191.7 1167.5L1199.7 1170.2L1196.5 1179.7L1188.5 1177.0z"/><path d="M1189.2 1169.2L1197.6 1168.1L1199.0 1178.0L1190.6 1179.1z"/><path d="M1231.5 1163.2L1239.9 1162.1L1241.3 1172.0L1232.9 1173.1z"/><path d="M1230.7 1164.3L1238.7 1161.5L1242.1 1170.9L1234.1 1173.7z"/><path d="M1242.4 1160.1L1250.4 1157.3L1253.8 1166.7L1245.8 1169.5z"/><path d="M1241.8 1161.5L1249.0 1156.9L1254.4 1165.3L1247.2 1169.9z"/><path d="M1275.7 1139.7L1282.9 1135.1L1288.3 1143.5L1281.1 1148.1z"/><path d="M1275.5 1140.8L1281.7 1135.0L1288.5 1142.4L1282.3 1148.2z"/><path d="M1307.4 1111.1L1313.6 1105.3L1320.4 1112.7L1314.2 1118.5z"/><path d="M1307.3 1111.6L1313.1 1105.4L1320.5 1112.2L1314.7 1118.4z"/><path d="M1335.2 1081.3L1341.0 1075.1L1348.4 1081.9L1342.6 1088.1z"/><path d="M1335.2 1081.2L1341.1 1075.1L1348.4 1082.0L1342.5 1088.1z"/><path d="M1365.9 1049.2L1371.8 1043.1L1379.1 1050.0L1373.2 1056.1z"/><path d="M1366.0 1048.8L1372.3 1043.0L1379.0 1050.4L1372.7 1056.2z"/><path d="M1401.9 1015.9L1408.2 1010.1L1414.9 1017.5L1408.6 1023.3z"/><path d="M1402.3 1014.4L1409.7 1010.3L1414.5 1019.0L1407.1 1023.1z"/><path d="M1435.9 995.7L1443.3 991.6L1448.1 1000.3L1440.7 1004.4z"/><path d="M1436.5 994.4L1444.7 992.0L1447.5 1001.6L1439.3 1004.0z"/><path d="M1480.6 981.8L1488.8 979.4L1491.6 989.0L1483.4 991.4z"/><path d="M1484.8 979.0L1492.3 983.1L1487.4 991.8L1479.9 987.7z"/><path d="M1519.2 998.3L1526.7 1002.4L1521.8 1011.1L1514.3 1007.0z"/><path d="M1523.8 999.0L1526.6 1007.0L1517.2 1010.4L1514.4 1002.4z"/><path d="M1530.5 1047.2L1541.5 1047.2L1544.3 1055.8L1533.3 1055.8z"/><path d="M1546.1 1095.0L1557.1 1095.0L1559.3 1103.5L1548.3 1103.5z"/><path d="M1559.6 1155.5L1570.6 1155.5L1572.4 1164.0L1561.4 1164.0z"/><path d="M1570.6 1213.5L1581.6 1213.5L1583.4 1222.0L1572.4 1222.0z"/><path d="M1582.3 1261.7L1593.3 1261.7L1595.9 1270.2L1584.9 1270.2z"/><path d="M1599.4 1311.2L1610.4 1311.2L1612.6 1319.8L1601.6 1319.8z"/><path d="M1609.1 1361.5L1620.1 1361.5L1621.7 1370.0L1610.7 1370.0z"/><path d="M1631.0 1416.8L1632.8 1425.2L1623.0 1427.2L1621.2 1418.8z"/><path d="M1628.2 1415.6L1633.6 1422.2L1625.8 1428.4L1620.4 1421.8z"/><path d="M1650.5 1443.3L1655.9 1449.9L1648.1 1456.1L1642.7 1449.5z"/><path d="M1647.4 1443.4L1655.2 1446.8L1651.2 1456.0L1643.4 1452.6z"/><path d="M1682.5 1460.2L1691.0 1460.2L1691.0 1471.2L1682.5 1471.2z"/></g>
<g fill="#00ff00" shape-rendering="crispEdges"><path d="M307.9 808.4L313.1 801.6L321.1 807.6L315.9 814.4z"/><path d="M307.9 808.4L313.1 801.6L321.1 807.6L315.9 814.4z"/><path d="M333.4 774.5L338.6 767.7L346.6 773.7L341.4 780.5z"/><path d="M334.2 771.0L342.1 767.9L345.8 777.2L337.9 780.3z"/><path d="M373.6 755.3L381.5 752.2L385.2 761.5L377.3 764.6z"/><path d="M381.7 752.3L385.8 759.7L377.1 764.5L373.0 757.1z"/><path d="M395.2 795.8L406.2 795.8L409.6 804.2L398.6 804.2z"/><path d="M410.7 846.9L421.7 846.9L424.1 855.4L413.1 855.4z"/><path d="M425.5 903.8L436.5 903.8L438.5 912.2L427.5 912.2z"/><path d="M438.3 962.0L449.3 962.0L451.3 970.5L440.3 970.5z"/><path d="M451.4 1019.5L462.4 1019.5L464.4 1028.0L453.4 1028.0z"/><path d="M461.3 1063.5L472.3 1063.5L474.3 1072.0L463.3 1072.0z"/><path d="M474.6 1121.2L485.6 1121.2L487.6 1129.7L476.6 1129.7z"/><path d="M487.7 1171.5L498.7 1171.5L501.1 1180.0L490.1 1180.0z"/><path d="M502.2 1220.2L513.2 1220.2L516.4 1228.7L505.4 1228.7z"/><path d="M532.5 1263.9L536.0 1271.6L526.9 1275.7L523.4 1268.0z"/><path d="M528.6 1263.3L535.9 1267.6L530.8 1276.3L523.5 1272.0z"/><path d="M567.2 1285.9L574.5 1290.2L569.4 1298.9L562.1 1294.6z"/><path d="M562.0 1290.6L569.1 1285.9L574.6 1294.2L567.5 1298.9z"/><path d="M595.6 1268.4L602.7 1263.7L608.2 1272.0L601.1 1276.7z"/><path d="M596.0 1267.4L603.7 1263.9L607.8 1273.0L600.1 1276.5z"/><path d="M637.2 1249.0L644.9 1245.5L649.0 1254.6L641.3 1258.1z"/><path d="M641.4 1245.5L649.1 1249.1L644.8 1258.1L637.1 1254.5z"/><path d="M679.8 1263.9L687.5 1267.5L683.2 1276.5L675.5 1272.9z"/><path d="M680.9 1263.7L687.8 1268.5L682.1 1276.7L675.2 1271.9z"/><path d="M716.8 1288.6L723.7 1293.4L718.0 1301.6L711.1 1296.8z"/><path d="M710.9 1293.9L717.5 1288.5L723.9 1296.3L717.3 1301.7z"/><path d="M743.7 1267.0L750.3 1261.6L756.7 1269.4L750.1 1274.8z"/><path d="M744.2 1270.9L746.6 1262.7L756.2 1265.5L753.8 1273.7z"/><path d="M762.3 1207.0L773.3 1207.0L771.3 1215.5L760.3 1215.5z"/><path d="M773.2 1146.5L784.2 1146.5L782.8 1155.0L771.8 1155.0z"/><path d="M781.8 1084.3L792.8 1084.3L791.6 1092.8L780.6 1092.8z"/><path d="M789.4 1021.5L800.4 1021.5L799.4 1030.0L788.4 1030.0z"/><path d="M797.2 959.0L808.2 959.0L807.2 967.5L796.2 967.5z"/><path d="M805.2 896.5L816.2 896.5L815.2 905.0L804.2 905.0z"/><path d="M808.3 869.5L819.3 869.5L818.3 878.0L807.3 878.0z"/><path d="M816.2 807.8L827.2 807.8L826.0 816.2L815.0 816.2z"/><path d="M824.7 746.5L835.7 746.5L834.3 755.0L823.3 755.0z"/><path d="M835.3 687.2L846.3 687.2L844.7 695.8L833.7 695.8z"/><path d="M845.7 639.2L856.7 639.2L854.3 647.8L843.3 647.8z"/><path d="M861.0 599.8L864.0 591.9L873.4 595.4L870.4 603.3z"/><path d="M863.2 592.4L871.7 592.8L871.2 602.8L862.7 602.4z"/><path d="M903.8 594.3L912.3 594.7L911.8 604.7L903.3 604.3z"/><path d="M903.7 594.4L912.2 594.6L911.9 604.6L903.4 604.4z"/><path d="M949.0 595.9L957.5 596.1L957.2 606.1L948.7 605.9z"/><path d="M947.1 598.4L954.7 594.6L959.1 603.6L951.5 607.4z"/><path d="M989.1 577.4L996.7 573.6L1001.1 582.6L993.5 586.4z"/><path d="M996.2 573.5L1001.7 580.0L994.0 586.5L988.5 580.0z"/><path d="M1002.9 581.5L1008.4 588.0L1000.7 594.5L995.2 588.0z"/><path d="M1004.8 582.1L1008.1 590.0L998.8 593.9L995.5 586.0z"/><path d="M1013.9 628.9L1024.9 628.9L1027.5 637.4L1016.5 637.4z"/><path d="M1027.6 686.8L1038.6 686.8L1040.2 695.2L1029.2 695.2z"/><path d="M1037.5 748.0L1048.5 748.0L1050.1 756.5L1039.1 756.5z"/><path d="M1049.6 807.8L1060.6 807.8L1062.2 816.2L1051.2 816.2z"/><path d="M1060.5 869.5L1071.5 869.5L1073.1 878.0L1062.1 878.0z"/><path d="M1069.7 917.5L1080.7 917.5L1082.3 926.0L1071.3 926.0z"/><path d="M1080.4 974.2L1091.4 974.2L1093.2 982.8L1082.2 982.8z"/><path d="M1092.9 1028.5L1103.9 1028.5L1106.3 1037.0L1095.3 1037.0z"/><path d="M1107.1 1074.5L1118.1 1074.5L1121.3 1083.0L1110.3 1083.0z"/><path d="M1138.1 1121.2L1141.5 1129.0L1132.3 1133.0L1128.9 1125.2z"/><path d="M1136.5 1120.7L1141.8 1127.4L1133.9 1133.5L1128.6 1126.8z"/><path d="M1166.3 1158.7L1171.6 1165.4L1163.7 1171.5L1158.4 1164.8z"/><path d="M1164.2 1158.6L1171.3 1163.2L1165.8 1171.6L1158.7 1167.0z"/><path d="M1201.3 1182.8L1208.4 1187.4L1202.9 1195.8L1195.8 1191.2z"/><path d="M1198.8 1183.6L1207.2 1185.1L1205.4 1195.0L1197.0 1193.5z"/><path d="M1253.7 1193.3L1262.1 1194.8L1260.3 1204.7L1251.9 1203.2z"/><path d="M1251.9 1194.8L1260.3 1193.3L1262.1 1203.2L1253.7 1204.7z"/><path d="M1297.9 1186.4L1306.3 1184.9L1308.1 1194.8L1299.7 1196.3z"/><path d="M1297.3 1187.4L1305.3 1184.4L1308.7 1193.8L1300.7 1196.8z"/><path d="M1340.2 1171.6L1348.2 1168.6L1351.6 1178.0L1343.6 1181.0z"/><path d="M1339.9 1172.1L1347.6 1168.5L1351.9 1177.5L1344.2 1181.1z"/><path d="M1353.4 1165.6L1361.1 1162.0L1365.4 1171.0L1357.7 1174.6z"/><path d="M1352.9 1167.1L1359.5 1161.7L1365.9 1169.5L1359.3 1174.9z"/><path d="M1391.0 1136.1L1397.6 1130.7L1404.0 1138.5L1397.4 1143.9z"/><path d="M1391.0 1138.2L1395.6 1131.0L1404.0 1136.4L1399.4 1143.6z"/><path d="M1419.3 1094.2L1430.3 1094.2L1425.5 1102.7L1414.5 1102.7z"/><path d="M1440.8 1049.2L1451.8 1049.2L1447.6 1057.8L1436.6 1057.8z"/><path d="M1463.4 1003.0L1474.4 1003.0L1469.6 1011.5L1458.6 1011.5z"/><path d="M1486.1 968.5L1490.8 961.4L1499.1 966.9L1494.4 974.0z"/><path d="M1486.4 965.7L1493.6 961.2L1498.8 969.7L1491.6 974.2z"/><path d="M1516.7 947.1L1523.9 942.6L1529.1 951.1L1521.9 955.6z"/><path d="M1519.5 943.5L1527.9 944.8L1526.3 954.7L1517.9 953.4z"/><path d="M1567.9 951.4L1576.3 952.7L1574.7 962.6L1566.3 961.3z"/><path d="M1568.3 951.2L1576.5 953.1L1574.3 962.8L1566.1 960.9z"/><path d="M1611.4 960.9L1619.6 962.8L1617.4 972.5L1609.2 970.6z"/><path d="M1610.7 961.3L1619.1 962.2L1618.1 972.1L1609.7 971.2z"/><path d="M1638.6 964.2L1647.0 965.1L1646.0 975.0L1637.6 974.1z"/><path d="M1646.0 964.2L1648.3 972.3L1638.6 975.0L1636.3 966.9z"/><path d="M1651.5 1021.0L1662.5 1021.0L1664.5 1029.5L1653.5 1029.5z"/><path d="M1662.7 1081.2L1673.7 1081.2L1675.1 1089.7L1664.1 1089.7z"/><path d="M1672.3 1142.7L1683.3 1142.7L1684.5 1151.2L1673.5 1151.2z"/><path d="M1680.9 1203.5L1691.9 1203.5L1693.1 1212.0L1682.1 1212.0z"/><path d="M1690.0 1263.5L1701.0 1263.5L1702.2 1272.0L1691.2 1272.0z"/><path d="M1696.8 1310.8L1707.8 1310.8L1709.2 1319.2L1698.2 1319.2z"/><path d="M1706.7 1371.5L1717.7 1371.5L1719.3 1380.0L1708.3 1380.0z"/><path d="M1728.6 1427.5L1730.2 1435.9L1720.4 1437.9L1718.8 1429.5z"/><path d="M1725.5 1426.2L1731.1 1432.7L1723.5 1439.2L1717.9 1432.7z"/><path d="M1748.7 1460.2L1757.2 1460.2L1757.2 1471.2L1748.7 1471.2z"/><path d="M1810.5 1460.5L1819.0 1460.5L1819.0 1471.5L1810.5 1471.5z"/><path d="M1872.5 1460.5L1881.0 1460.5L1881.0 1471.5L1872.5 1471.5z"/></g>
<g fill="#000000" shape-rendering="crispEdges"><path d="M310.8 805.0L321.8 805.0L320.6 813.5L309.6 813.5z"/><path d="M319.7 745.0L330.7 745.0L329.7 753.5L318.7 753.5z"/><path d="M325.2 681.5L336.2 681.5L335.4 690.0L324.4 690.0z"/><path d="M331.3 619.0L342.3 619.0L341.3 627.5L330.3 627.5z"/><path d="M338.7 557.2L349.7 557.2L348.5 565.8L337.5 565.8z"/><path d="M348.8 507.4L350.4 499.1L360.2 501.0L358.6 509.3z"/><path d="M355.6 497.7L361.1 504.3L353.4 510.7L347.9 504.1z"/><path d="M373.7 519.5L379.2 526.1L371.5 532.5L366.0 525.9z"/><path d="M376.9 521.1L378.2 529.5L368.3 530.9L367.0 522.5z"/><path d="M375.3 582.8L386.3 582.8L387.5 591.2L376.5 591.2z"/><path d="M382.9 645.6L393.9 645.6L394.9 654.1L383.9 654.1z"/><path d="M389.7 707.6L400.7 707.6L401.5 716.1L390.5 716.1z"/><path d="M395.3 769.5L406.3 769.5L407.1 778.0L396.1 778.0z"/><path d="M401.4 831.1L412.4 831.1L413.2 839.6L402.2 839.6z"/><path d="M407.4 893.5L418.4 893.5L419.2 902.0L408.2 902.0z"/><path d="M414.0 956.5L425.0 956.5L425.8 965.0L414.8 965.0z"/><path d="M419.9 1018.8L430.9 1018.8L431.9 1027.2L420.9 1027.2z"/><path d="M427.4 1080.5L438.4 1080.5L439.4 1089.0L428.4 1089.0z"/><path d="M435.5 1142.5L446.5 1142.5L447.7 1151.0L436.7 1151.0z"/><path d="M437.9 1155.5L448.9 1155.5L450.3 1164.0L439.3 1164.0z"/><path d="M446.8 1216.0L457.8 1216.0L459.2 1224.5L448.2 1224.5z"/><path d="M458.4 1274.7L469.4 1274.7L471.8 1283.2L460.8 1283.2z"/><path d="M485.7 1318.8L488.7 1326.8L479.3 1330.4L476.3 1322.4z"/><path d="M482.5 1318.0L489.0 1323.5L482.5 1331.2L476.0 1325.7z"/><path d="M516.4 1346.7L522.9 1352.2L516.4 1359.9L509.9 1354.4z"/><path d="M510.1 1351.5L517.1 1346.8L522.7 1355.1L515.7 1359.8z"/><path d="M547.6 1326.3L554.6 1321.6L560.2 1329.9L553.2 1334.6z"/><path d="M547.4 1327.3L553.7 1321.5L560.4 1328.9L554.1 1334.7z"/><path d="M579.2 1298.2L585.5 1292.4L592.2 1299.8L585.9 1305.6z"/><path d="M579.3 1297.5L586.1 1292.5L592.1 1300.5L585.3 1305.5z"/><path d="M608.4 1275.9L615.2 1270.9L621.2 1278.9L614.4 1283.9z"/><path d="M613.2 1271.0L620.8 1274.8L616.4 1283.8L608.8 1280.0z"/><path d="M652.8 1290.5L660.4 1294.3L656.0 1303.3L648.4 1299.5z"/><path d="M654.7 1290.3L660.9 1296.1L654.1 1303.5L647.9 1297.7z"/><path d="M688.9 1322.1L695.1 1327.9L688.3 1335.3L682.1 1329.5z"/><path d="M685.1 1323.1L693.5 1324.4L692.1 1334.3L683.7 1333.0z"/><path d="M728.8 1329.7L737.2 1331.0L735.8 1340.9L727.4 1339.6z"/><path d="M725.9 1336.7L729.8 1329.2L738.7 1333.9L734.8 1341.4z"/><path d="M750.5 1288.7L761.5 1288.7L758.5 1297.2L747.5 1297.2z"/><path d="M764.4 1230.0L775.4 1230.0L773.6 1238.5L762.6 1238.5z"/><path d="M775.0 1167.7L786.0 1167.7L784.8 1176.2L773.8 1176.2z"/><path d="M782.2 1105.3L793.2 1105.3L792.2 1113.8L781.2 1113.8z"/><path d="M788.9 1041.3L799.9 1041.3L799.1 1049.8L788.1 1049.8z"/><path d="M794.7 976.0L805.7 976.0L804.9 984.5L793.9 984.5z"/><path d="M799.6 914.2L810.6 914.2L810.0 922.8L799.0 922.8z"/><path d="M804.2 851.2L815.2 851.2L814.6 859.8L803.6 859.8z"/><path d="M808.6 789.0L819.6 789.0L819.0 797.5L808.0 797.5z"/><path d="M813.4 726.5L824.4 726.5L823.8 735.0L812.8 735.0z"/><path d="M818.4 663.8L829.4 663.8L828.6 672.2L817.6 672.2z"/><path d="M824.0 602.0L835.0 602.0L834.2 610.5L823.2 610.5z"/><path d="M830.2 539.0L841.2 539.0L840.0 547.5L829.0 547.5z"/><path d="M840.6 477.2L851.6 477.2L850.0 485.8L839.0 485.8z"/><path d="M851.8 420.1L862.8 420.1L861.0 428.6L850.0 428.6z"/><path d="M864.9 371.1L875.9 371.1L872.9 379.6L861.9 379.6z"/><path d="M882.1 333.3L885.6 325.5L894.7 329.5L891.2 337.3z"/><path d="M884.7 326.0L893.2 326.9L892.1 336.8L883.6 335.9z"/><path d="M921.5 330.1L930.0 331.0L928.9 340.9L920.4 340.0z"/><path d="M918.7 334.8L924.8 329.0L931.7 336.2L925.6 342.0z"/><path d="M944.7 309.8L950.8 304.0L957.7 311.2L951.6 317.0z"/><path d="M945.4 313.5L947.3 305.2L957.0 307.5L955.1 315.8z"/><path d="M960.4 247.2L971.4 247.2L969.8 255.8L958.8 255.8z"/><path d="M969.3 184.7L980.3 184.7L979.1 193.2L968.1 193.2z"/><path d="M978.1 123.7L989.1 123.7L987.7 132.2L976.7 132.2z"/><path d="M988.0 78.1L989.8 69.7L999.6 71.7L997.8 80.1z"/><path d="M997.6 69.6L999.7 77.8L990.0 80.2L987.9 72.0z"/><path d="M1000.7 122.5L1011.7 122.5L1013.1 131.1L1002.1 131.1z"/><path d="M1006.1 185.1L1017.1 185.1L1017.7 193.6L1006.7 193.6z"/><path d="M1009.7 248.2L1020.7 248.2L1021.1 256.6L1010.1 256.6z"/><path d="M1013.4 310.6L1024.4 310.6L1024.8 319.1L1013.8 319.1z"/><path d="M1016.7 373.8L1027.7 373.8L1028.1 382.2L1017.1 382.2z"/><path d="M1020.6 436.2L1031.6 436.2L1032.2 444.8L1021.2 444.8z"/><path d="M1024.6 499.6L1035.6 499.6L1036.2 508.1L1025.2 508.1z"/><path d="M1028.3 561.4L1039.3 561.4L1039.9 569.9L1028.9 569.9z"/><path d="M1033.9 623.9L1044.9 623.9L1045.5 632.4L1034.5 632.4z"/><path d="M1038.2 684.9L1049.2 684.9L1049.8 693.4L1038.8 693.4z"/><path d="M1043.3 748.0L1054.3 748.0L1055.1 756.5L1044.1 756.5z"/><path d="M1049.4 810.1L1060.4 810.1L1061.4 818.6L1050.4 818.6z"/><path d="M1057.1 871.9L1068.1 871.9L1069.3 880.4L1058.3 880.4z"/><path d="M1066.1 933.5L1077.1 933.5L1078.7 942.0L1067.7 942.0z"/><path d="M1078.2 991.5L1089.2 991.5L1091.2 1000.0L1080.2 1000.0z"/><path d="M1091.9 1045.8L1102.9 1045.8L1105.9 1054.3L1094.9 1054.3z"/><path d="M1122.5 1090.2L1126.0 1097.9L1116.9 1102.0L1113.4 1094.3z"/><path d="M1121.1 1089.7L1126.3 1096.4L1118.3 1102.5L1113.1 1095.8z"/><path d="M1150.2 1127.3L1155.4 1134.0L1147.4 1140.1L1142.2 1133.4z"/><path d="M1147.1 1127.3L1154.8 1131.0L1150.5 1140.1L1142.8 1136.4z"/><path d="M1185.6 1145.9L1193.3 1149.6L1189.0 1158.7L1181.3 1155.0z"/><path d="M1183.0 1147.3L1191.5 1147.3L1191.5 1157.3L1183.0 1157.3z"/><path d="M1229.8 1147.3L1238.2 1147.3L1238.2 1157.3L1229.8 1157.3z"/><path d="M1228.0 1149.7L1235.6 1145.9L1240.0 1154.9L1232.4 1158.7z"/><path d="M1264.3 1131.8L1271.9 1128.0L1276.3 1137.0L1268.7 1140.8z"/><path d="M1264.0 1132.6L1271.1 1127.9L1276.6 1136.2L1269.5 1140.9z"/><path d="M1276.1 1124.6L1283.2 1119.9L1288.7 1128.2L1281.6 1132.9z"/><path d="M1275.9 1125.2L1282.5 1119.8L1288.9 1127.6L1282.3 1133.0z"/><path d="M1307.4 1099.3L1314.0 1093.9L1320.4 1101.7L1313.8 1107.1z"/><path d="M1307.4 1099.8L1313.5 1093.9L1320.4 1101.2L1314.3 1107.1z"/><path d="M1341.8 1067.1L1347.9 1061.2L1354.8 1068.5L1348.7 1074.4z"/><path d="M1341.8 1066.7L1348.3 1061.2L1354.8 1068.9L1348.3 1074.4z"/><path d="M1375.7 1038.1L1382.2 1032.6L1388.7 1040.3L1382.2 1045.8z"/><path d="M1375.9 1037.3L1383.0 1032.7L1388.5 1041.1L1381.4 1045.7z"/><path d="M1408.1 1016.3L1415.2 1011.7L1420.7 1020.1L1413.6 1024.7z"/><path d="M1410.1 1013.2L1418.6 1013.2L1418.7 1023.2L1410.2 1023.2z"/><path d="M1459.3 1013.1L1467.8 1013.1L1467.9 1023.1L1459.4 1023.1z"/><path d="M1457.1 1017.1L1463.6 1011.5L1470.1 1019.1L1463.6 1024.7z"/><path d="M1478.4 998.9L1484.9 993.3L1491.4 1000.9L1484.9 1006.5z"/><path d="M1484.1 993.4L1491.2 998.0L1485.7 1006.4L1478.6 1001.8z"/><path d="M1516.8 1014.7L1523.9 1019.3L1518.4 1027.7L1511.3 1023.1z"/><path d="M1521.3 1015.8L1523.5 1024.0L1513.9 1026.6L1511.7 1018.4z"/><path d="M1526.0 1073.2L1537.0 1073.2L1539.2 1081.7L1528.2 1081.7z"/><path d="M1537.5 1122.0L1548.5 1122.0L1551.9 1130.5L1540.9 1130.5z"/><path d="M1561.7 1163.5L1572.7 1163.5L1575.1 1172.0L1564.1 1172.0z"/><path d="M1568.1 1226.8L1579.1 1226.8L1579.7 1235.2L1568.7 1235.2z"/><path d="M1572.4 1288.0L1583.4 1288.0L1584.0 1296.5L1573.0 1296.5z"/><path d="M1577.8 1350.5L1588.8 1350.5L1589.8 1359.0L1578.8 1359.0z"/><path d="M1585.3 1407.0L1596.3 1407.0L1599.1 1415.5L1588.1 1415.5z"/><path d="M1618.4 1445.2L1622.8 1452.5L1614.2 1457.6L1609.8 1450.3z"/><path d="M1614.0 1445.2L1622.0 1448.2L1618.6 1457.6L1610.6 1454.6z"/><path d="M1641.5 1456.6L1650.0 1456.6L1650.0 1467.6L1641.5 1467.6z"/><path d="M1686.0 1458.4L1694.5 1458.4L1694.5 1469.4L1686.0 1469.4z"/><path d="M1736.8 1459.0L1745.2 1459.0L1745.2 1470.0L1736.8 1470.0z"/><path d="M1784.5 1459.0L1793.0 1459.0L1793.0 1470.0L1784.5 1470.0z"/><path d="M1834.2 1459.0L1842.7 1459.0L1842.7 1470.0L1834.2 1470.0z"/><path d="M1892.8 1459.0L1901.2 1459.0L1901.2 1470.0L1892.8 1470.0z"/><path d="M1905.2 1459.0L1913.8 1459.0L1913.8 1470.0L1905.2 1470.0z"/><path d="M1951.2 1459.0L1959.8 1459.0L1959.8 1470.0L1951.2 1470.0z"/><path d="M1999.2 1459.0L2007.7 1459.0L2007.7 1470.0L1999.2 1470.0z"/><path d="M2048.8 1459.0L2057.2 1459.0L2057.2 1470.0L2048.8 1470.0z"/></g>
<g font-family="Liberation Sans, Arial, sans-serif" fill="#000">
<text x="264.0" y="1485.0" font-size="59.6" text-anchor="end">0</text>
<text x="264.0" y="1202.4" font-size="59.6" text-anchor="end">20</text>
<text x="264.0" y="919.8" font-size="59.6" text-anchor="end">40</text>
<text x="264.0" y="637.2" font-size="59.6" text-anchor="end">60</text>
<text x="264.0" y="354.6" font-size="59.6" text-anchor="end">80</text>
<text x="264.0" y="72.0" font-size="59.6" text-anchor="end">100</text>
<text x="2116.0" y="1485.0" font-size="59.6">0.0</text>
<text x="2116.0" y="1202.4" font-size="59.6">0.1</text>
<text x="2116.0" y="919.8" font-size="59.6">0.2</text>
<text x="2116.0" y="637.2" font-size="59.6">0.3</text>
<text x="2116.0" y="354.6" font-size="59.6">0.4</text>
<text x="2116.0" y="72.0" font-size="59.6">0.5</text>
<text x="481.5" y="1562.0" font-size="59.6" text-anchor="middle">100</text>
<text x="708.1" y="1562.0" font-size="59.6" text-anchor="middle">200</text>
<text x="934.8" y="1562.0" font-size="59.6" text-anchor="middle">300</text>
<text x="1161.4" y="1562.0" font-size="59.6" text-anchor="middle">400</text>
<text x="1388.1" y="1562.0" font-size="59.6" text-anchor="middle">500</text>
<text x="1614.7" y="1562.0" font-size="59.6" text-anchor="middle">600</text>
<text x="1841.3" y="1562.0" font-size="59.6" text-anchor="middle">700</text>
<text x="2068.0" y="1562.0" font-size="59.6" text-anchor="middle">800</text>
<text transform="translate(82.0 730.0) rotate(-90)" font-size="73.4" text-anchor="middle">% weight</text>
<text transform="translate(2280.0 761.5) rotate(-90)" font-size="73.6" text-anchor="middle">dW/dt</text>
<text x="1189.5" y="1675.0" font-size="74.5" text-anchor="middle">Temperature (°C)</text>
</g>
</svg></body></html>
